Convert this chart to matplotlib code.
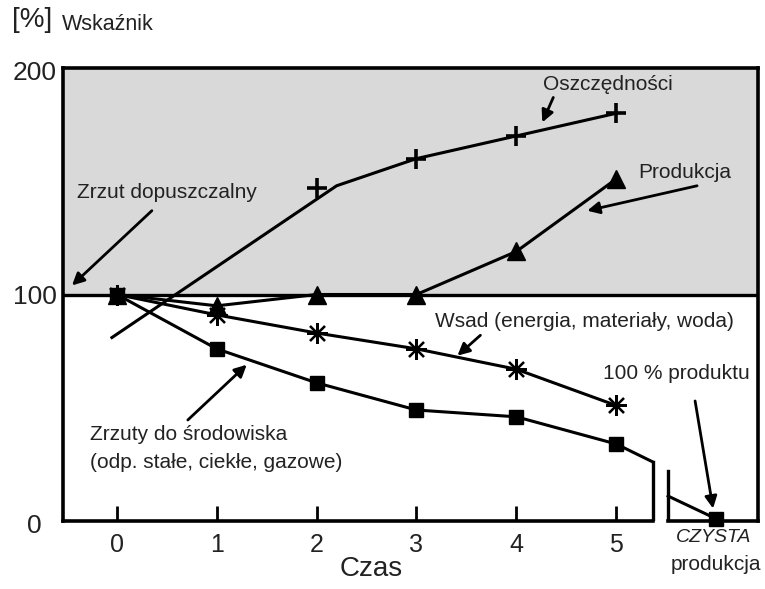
import matplotlib
matplotlib.use("Agg")
import matplotlib.pyplot as plt

plt.rcParams['font.family'] = ['Liberation Sans', 'DejaVu Sans']

# data
czas = [0, 1, 2, 3, 4, 5]
tick_labels = ["0", "1", "2", "3", "4", "5"]

osz_line_x = [-0.05, 2.2, 3, 4, 5]
osz_line_y = [81, 148, 160, 170, 180]
osz_pts_x = [2, 3, 4, 5]
osz_pts_y = [147, 160, 170, 180]

produkcja = [100, 95, 100, 100, 119, 151]
wsad = [100, 91, 83, 76, 67, 51]
zrzuty = [100, 76, 61, 49, 46, 34]
zrzuty_end_x = [5, 5.37]
zrzuty_end_y = [34, 26]

czysta_x = [5.52, 6]
czysta_y = [11, 1]

txt = '#222222'

fig = plt.figure(figsize=(7.65, 5.89), dpi=100)
ax = fig.add_axes([63/765, 1 - 521/589, (758 - 63)/765, (521 - 68)/589])
ax.set_xlim(-0.54, 6.42)
ax.set_ylim(0, 200)

# gray area above 100 %
ax.axhspan(100, 200, color='#d9d9d9', zorder=0)
ax.axhline(100, color='k', lw=2.4, zorder=2)

# frame with broken bottom
for s in ['left', 'top', 'right']:
    ax.spines[s].set_linewidth(2.6)
ax.spines['bottom'].set_visible(False)
ax.plot([-0.54, 5.37], [0, 0], color='k', lw=2.6, clip_on=False, zorder=5)
ax.plot([5.52, 6.42], [0, 0], color='k', lw=2.6, clip_on=False, zorder=5)
ax.plot([5.37, 5.37], [0, 26], color='k', lw=2.4, zorder=5)
ax.plot([5.52, 5.52], [0, 22], color='k', lw=2.4, zorder=5)

ax.set_xticks(czas)
ax.set_xticklabels(tick_labels, fontsize=18, color=txt)
ax.tick_params(axis='x', direction='in', length=11, width=2, pad=9)
ax.set_yticks([])

# curves
ax.plot(osz_line_x, osz_line_y, color='k', lw=2.2, zorder=3)
ax.plot(osz_pts_x, osz_pts_y, ls='none', marker='+', ms=15, mew=2.6, color='k', zorder=4)
ax.plot(czas, produkcja, color='k', lw=2.2, marker='^', ms=13, zorder=4)
ax.plot(czas, wsad, color='k', lw=2.2, marker=(8, 2, 0), ms=15, mew=1.6, zorder=4)
ax.plot(czas, zrzuty, color='k', lw=2.2, marker='s', ms=10, zorder=4)
ax.plot(zrzuty_end_x, zrzuty_end_y, color='k', lw=2.2, zorder=3)
ax.plot(czysta_x, czysta_y, color='k', lw=2.2, zorder=3)
ax.plot([6], [1], ls='none', marker='s', ms=10, color='k', zorder=6, clip_on=False)

# labels with arrows
arr = dict(arrowstyle='-|>', color='k', lw=2, mutation_scale=18, shrinkA=0, shrinkB=0)
ax.annotate("", xy=(-0.45, 104), xytext=(0.35, 137), arrowprops=arr)
ax.text(-0.40, 145, "Zrzut dopuszczalny", fontsize=15, color=txt, va='center')

ax.annotate("", xy=(4.26, 176), xytext=(4.37, 187), arrowprops=arr)
ax.text(4.27, 192.5, "Oszczędności", fontsize=15, color=txt, va='center')

ax.annotate("", xy=(4.71, 137), xytext=(5.81, 148), arrowprops=arr)
ax.text(5.22, 154, "Produkcja", fontsize=15, color=txt, va='center')

ax.annotate("", xy=(3.41, 73), xytext=(3.64, 82), arrowprops=arr)
ax.text(3.19, 88, "Wsad (energia, materiały, woda)", fontsize=15, color=txt, va='center')

ax.annotate("", xy=(5.97, 5.5), xytext=(5.79, 53), arrowprops=arr)
ax.text(4.87, 65, "100 % produktu", fontsize=15, color=txt, va='center')

ax.annotate("", xy=(1.30, 69), xytext=(0.71, 44.6), arrowprops=arr)
ax.text(-0.27, 38, "Zrzuty do środowiska", fontsize=15, color=txt, va='center')
ax.text(-0.27, 26, "(odp. stałe, ciekłe, gazowe)", fontsize=15, color=txt, va='center')

# axis texts
ax.text(-0.60, 198, "200", fontsize=19, color=txt, ha='right', va='center', clip_on=False)
ax.text(-0.60, 99, "100", fontsize=19, color=txt, ha='right', va='center', clip_on=False)
ax.text(-0.75, -2, "0", fontsize=19, color=txt, ha='right', va='center', clip_on=False)
ax.text(2.55, -21, "Czas", fontsize=20, color=txt, ha='center', va='center', clip_on=False)
ax.text(5.98, -7.5, "CZYSTA", fontsize=14, style='italic', color=txt, ha='center', va='center', clip_on=False)
ax.text(6.0, -19, "produkcja", fontsize=15, color=txt, ha='center', va='center', clip_on=False)

fig.text(12/765, 1 - 20/589, "[%]", fontsize=20, color=txt, va='center')
fig.text(62/765, 1 - 24/589, "Wskaźnik", fontsize=15.5, color=txt, va='center')

fig.savefig("out.png", dpi=100)
